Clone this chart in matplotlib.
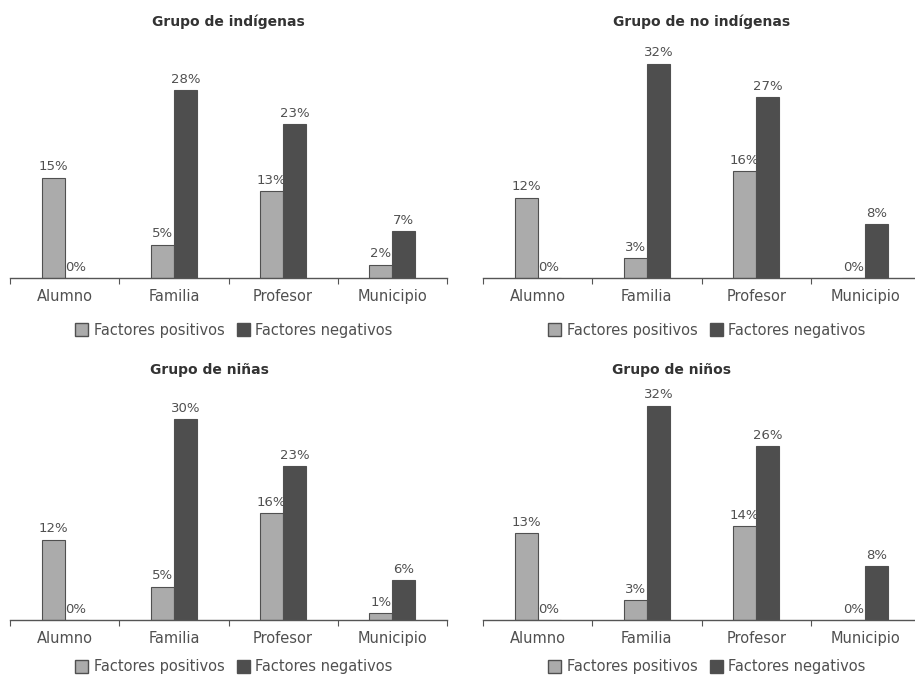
import matplotlib
matplotlib.use("Agg")
import matplotlib.pyplot as plt
from matplotlib.patches import Patch

categories = ["Alumno", "Familia", "Profesor", "Municipio"]
titles = ["Grupo de indígenas", "Grupo de no indígenas", "Grupo de niñas", "Grupo de niños"]
positivos_indigenas = [15, 5, 13, 2]
negativos_indigenas = [0, 28, 23, 7]
positivos_no_indigenas = [12, 3, 16, 0]
negativos_no_indigenas = [0, 32, 27, 8]
positivos_ninas = [12, 5, 16, 1]
negativos_ninas = [0, 30, 23, 6]
positivos_ninos = [13, 3, 14, 0]
negativos_ninos = [0, 32, 26, 8]
series_labels = ["Factores positivos", "Factores negativos"]

plt.rcParams['font.family'] = ['DejaVu Sans']
W, H = 915, 677
fig = plt.figure(figsize=(W / 100, H / 100), dpi=100)

COL_POS = "#ababab"
COL_NEG = "#4e4e4e"
EDGE = "#505050"
TXT = "#505050"
PX_PER = 6.7
YMAX = 36

panels = [
    (positivos_indigenas, negativos_indigenas, titles[0], 10, 278, 228, 256, 52),
    (positivos_no_indigenas, negativos_no_indigenas, titles[1], 483, 278, 702, 256, 52),
    (positivos_ninas, negativos_ninas, titles[2], 10, 620, 209, 250, 47),
    (positivos_ninos, negativos_ninos, titles[3], 483, 620, 672, 250, 47),
]

bw = 0.21
for pos, neg, title, xl, ybase, tx, tdy, ldy in panels:
    axw = 437
    axh = YMAX * PX_PER
    ax = fig.add_axes([xl / W, (H - ybase) / H, axw / W, axh / H])
    ax.set_xlim(-0.5, 3.5)
    ax.set_ylim(0, YMAX)
    x = list(range(len(categories)))
    b1 = ax.bar([i - bw / 2 for i in x], pos, width=bw, color=COL_POS, edgecolor=EDGE, linewidth=0.8)
    b2 = ax.bar([i + bw / 2 for i in x], neg, width=bw, color=COL_NEG, edgecolor=EDGE, linewidth=0.8)
    for bars, vals in ((b1, pos), (b2, neg)):
        for r, v in zip(bars, vals):
            ax.annotate(f"{v}%", (r.get_x() + r.get_width() / 2, v), xytext=(0, 3),
                        textcoords="offset points", ha="center", va="bottom",
                        fontsize=9.5, color=TXT)
    for s in ("top", "right", "left"):
        ax.spines[s].set_visible(False)
    ax.spines["bottom"].set_color("#555555")
    ax.spines["bottom"].set_linewidth(1.0)
    ax.set_yticks([])
    ax.set_xticks([-0.5, 0.5, 1.5, 2.5, 3.5])
    ax.set_xticklabels([])
    ax.tick_params(axis="x", which="major", length=4, color="#555555", direction="out")
    ax.set_xticks(x, minor=True)
    ax.set_xticklabels(categories, minor=True)
    ax.tick_params(axis="x", which="minor", length=0, pad=8, labelsize=10.5, labelcolor=TXT)
    fig.text(tx / W, (H - (ybase - tdy)) / H, title, ha="center", va="center",
             fontsize=10, fontweight="bold", color="#333333")
    handles = [Patch(facecolor=COL_POS, edgecolor=EDGE), Patch(facecolor=COL_NEG, edgecolor=EDGE)]
    fig.legend(handles, series_labels, loc="center",
               bbox_to_anchor=((xl + 224) / W, (H - (ybase + ldy)) / H),
               ncol=2, frameon=False, fontsize=10.5, handlelength=0.9, handleheight=0.9,
               handletextpad=0.4, columnspacing=0.8, labelcolor=TXT)

fig.savefig("out.png", dpi=100, facecolor="white")
